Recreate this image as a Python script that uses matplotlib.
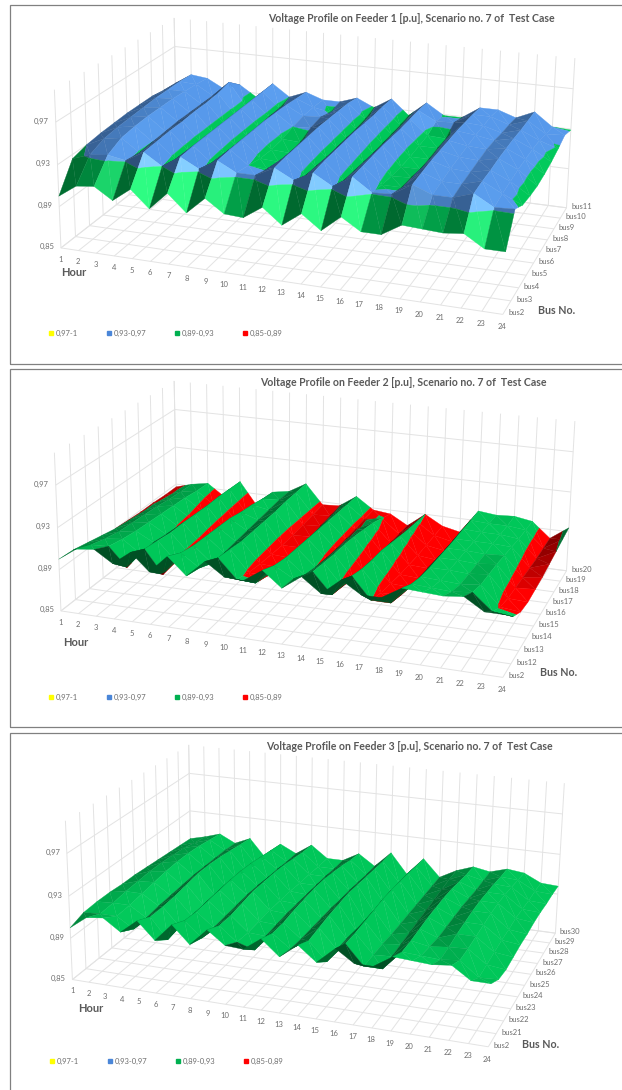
import numpy as np
import matplotlib
matplotlib.use("Agg")
import matplotlib.pyplot as plt
from matplotlib.lines import Line2D
from matplotlib.patches import Rectangle
from mpl_toolkits.mplot3d import proj3d
from mpl_toolkits.mplot3d.art3d import Poly3DCollection

plt.rcParams['font.family'] = ['Lato', 'DejaVu Sans']

W, H = 622, 1090

hours = list(range(1, 25))
hour_labels = [str(h) for h in hours]
z_ticks = [0.85, 0.89, 0.93, 0.97]
z_labels = ['0,85', '0,89', '0,93', '0,97']

buses1 = ['bus2', 'bus3', 'bus4', 'bus5', 'bus6', 'bus7', 'bus8', 'bus9', 'bus10', 'bus11']
buses2 = ['bus2', 'bus12', 'bus13', 'bus14', 'bus15', 'bus16', 'bus17', 'bus18', 'bus19', 'bus20']
buses3 = ['bus2', 'bus21', 'bus22', 'bus23', 'bus24', 'bus25', 'bus26', 'bus27', 'bus28', 'bus29', 'bus30']

# la barra 2 es comun a los tres alimentadores
bus2_v = [.900, .912, .914, .903, .916, .900, .917, .901, .917, .905, .904, .916, .902, .915, .902, .917, .906, .906, .917, .916, .915, .917, .906, .906]

# Feeder 1, una fila por barra, una columna por hora
feeder1_v = [
    bus2_v,
    [.926, .932, .934, .931, .941, .930, .941, .932, .942, .933, .933, .942, .933, .942, .932, .943, .931, .932, .943, .936, .936, .942, .932, .933],
    [.930, .938, .941, .929, .942, .927, .942, .928, .943, .930, .929, .943, .927, .943, .927, .943, .928, .928, .944, .938, .938, .943, .934, .926],
    [.932, .940, .943, .930, .943, .926, .942, .927, .943, .927, .926, .943, .926, .943, .926, .943, .926, .927, .945, .940, .939, .943, .935, .924],
    [.933, .941, .944, .931, .943, .925, .942, .926, .943, .926, .925, .943, .925, .943, .925, .943, .925, .925, .945, .941, .940, .944, .936, .923],
    [.934, .942, .944, .932, .944, .925, .942, .926, .943, .927, .926, .943, .925, .943, .924, .942, .925, .925, .945, .942, .941, .944, .936, .924],
    [.934, .943, .944, .932, .944, .925, .942, .926, .942, .930, .931, .942, .925, .942, .924, .941, .926, .926, .945, .943, .940, .944, .936, .926],
    [.934, .943, .943, .932, .945, .925, .942, .927, .941, .932, .933, .941, .925, .941, .924, .941, .927, .926, .944, .943, .938, .943, .935, .929],
    [.932, .943, .942, .932, .948, .925, .942, .927, .939, .932, .929, .940, .926, .941, .924, .941, .932, .933, .943, .943, .937, .943, .932, .933],
    [.931, .942, .940, .931, .937, .926, .942, .930, .937, .931, .931, .937, .929, .940, .925, .940, .929, .929, .941, .941, .935, .943, .930, .929],
]

# Feeder 2
feeder2_v = [
    bus2_v,
    [.899, .906, .907, .889, .909, .887, .910, .898, .910, .892, .891, .910, .900, .909, .890, .910, .890, .890, .910, .909, .908, .910, .895, .893],
    [.896, .902, .904, .892, .907, .889, .907, .892, .908, .888, .887, .907, .893, .907, .887, .906, .886, .886, .906, .905, .904, .906, .888, .886],
    [.893, .899, .902, .893, .905, .887, .906, .892, .906, .886, .885, .906, .890, .905, .884, .904, .884, .883, .904, .904, .903, .905, .885, .884],
    [.890, .898, .901, .891, .905, .886, .905, .893, .906, .885, .884, .905, .888, .904, .882, .903, .882, .881, .903, .903, .902, .904, .884, .885],
    [.889, .897, .900, .889, .904, .884, .904, .894, .906, .884, .884, .904, .887, .902, .880, .900, .881, .880, .902, .902, .901, .902, .883, .886],
    [.888, .896, .899, .888, .903, .882, .901, .895, .906, .884, .885, .903, .887, .899, .879, .897, .880, .878, .901, .901, .901, .900, .882, .888],
    [.888, .894, .898, .886, .903, .880, .899, .896, .907, .885, .886, .902, .887, .896, .878, .894, .880, .877, .901, .900, .900, .898, .881, .890],
    [.887, .893, .896, .884, .902, .879, .896, .897, .907, .886, .887, .901, .888, .891, .877, .892, .880, .876, .900, .899, .899, .897, .881, .892],
    [.887, .892, .895, .883, .901, .878, .894, .897, .907, .887, .888, .900, .888, .886, .876, .890, .880, .876, .900, .898, .899, .896, .881, .894],
]

# Feeder 3
feeder3_v = [
    bus2_v,
    [.905, .906, .906, .896, .910, .8905, .911, .897, .911, .898, .893, .911, .899, .909, .892, .911, .893, .893, .911, .910, .909, .911, .898, .899],
    [.906, .907, .907, .897, .910, .893, .910, .897, .911, .897, .896, .911, .898, .911, .893, .911, .893, .894, .911, .908, .910, .911, .899, .897],
    [.906, .909, .909, .899, .911, .894, .911, .898, .913, .898, .897, .913, .898, .913, .893, .912, .893, .895, .912, .906, .912, .912, .900, .898],
    [.905, .910, .911, .900, .913, .895, .912, .899, .915, .899, .898, .914, .898, .914, .891, .913, .892, .896, .913, .906, .913, .913, .901, .899],
    [.905, .911, .913, .901, .915, .896, .913, .900, .915, .899, .898, .915, .898, .915, .8895, .914, .892, .897, .913, .906, .914, .914, .901, .899],
    [.904, .911, .914, .902, .915, .896, .913, .900, .915, .899, .898, .915, .897, .914, .8895, .914, .892, .898, .913, .906, .914, .914, .902, .900],
    [.903, .910, .914, .902, .914, .895, .912, .899, .914, .898, .898, .913, .897, .913, .891, .913, .892, .899, .912, .905, .913, .913, .901, .900],
    [.902, .909, .913, .902, .912, .893, .910, .899, .912, .898, .898, .911, .896, .912, .891, .912, .892, .900, .910, .904, .912, .911, .900, .899],
    [.901, .906, .911, .902, .910, .891, .908, .898, .910, .897, .897, .908, .895, .911, .891, .910, .892, .901, .908, .904, .910, .909, .900, .899],
    [.900, .904, .909, .901, .908, .8895, .906, .898, .909, .897, .897, .906, .895, .911, .891, .909, .892, .901, .907, .904, .909, .907, .899, .898],
]

# Bandas de la leyenda
band_names = ['0,97-1', '0,93-0,97', '0,89-0,93', '0,85-0,89']
band_lims = [(.97, 1.0), (.93, .97), (.89, .93), (.85, .89)]
band_colors = [(1.0, 1.0, 0.0), (0.34, 0.60, 0.92), (0.0, 0.78, 0.35), (1.0, 0.0, 0.0)]
legend_colors = ['#FFFF00', '#4A86D8', '#00B050', '#FF0000']

# Camara de cada grafico: (hora, fraccion de barra, z, px, py)
cam1 = [(1, 0, .85, 63, 247), (1, 0, .97, 56, 120), (1, 0, 1.0, 53, 89),
        (1, 1, .85, 175, 161), (1, 1, .93, 175, 84), (1, 1, .97, 175, 46), (1, 1, 1.0, 175, 18),
        (24, 1, .85, 567, 204), (24, 1, .89, 569, 166), (24, 1, .93, 571, 128), (24, 1, .97, 573, 90),
        (24, 1, 1.0, 575, 61), (24, 0, .85, 501, 317), (12, 0, .85, 263, 279), (24, .444, .85, 534, 264)]
cam2 = [(a, b, c, d, e + 363) for a, b, c, d, e in cam1]
cam3 = [(1, 0, .85, 73, 978), (1, 0, .97, 67, 852), (1, 0, 1.0, 65, 820),
        (1, 1, .85, 190, 887), (1, 1, .93, 190, 811), (1, 1, .97, 190, 773), (1, 1, 1.0, 188, 745),
        (24, 1, .85, 556, 930), (24, 1, .89, 558, 892), (24, 1, .93, 560, 854), (24, 1, .97, 562, 815),
        (24, 1, 1.0, 565, 785), (24, 0, .85, 486, 1050), (12, 0, .85, 263, 1011), (24, .5, .85, 525, 985)]


def recortar(pts, lo, hi):
    # recorta un poligono a la banda lo <= z <= hi
    for lim, signo in ((lo, 1), (hi, -1)):
        salida = []
        for i in range(len(pts)):
            p, q = pts[i], pts[(i + 1) % len(pts)]
            dp, dq = signo * (p[2] - lim), signo * (q[2] - lim)
            if dp >= 0:
                salida.append(p)
            if dp * dq < 0:
                t = dp / (dp - dq)
                salida.append(tuple(p[k] + t * (q[k] - p[k]) for k in range(3)))
        pts = salida
        if not pts:
            return []
    return pts


def sombra(z00, z10, z11, z01):
    # brillo de la celda segun la pendiente en hora y en barra
    sh = 0.5 * (z10 - z00 + z11 - z01) / 0.012
    sb = 0.5 * (z01 - z00 + z11 - z10) / 0.015
    m = 1 - 0.48 * np.clip(sh, 0, 1) ** 0.7 - 0.22 * np.clip(sb, 0, 1) * (1 - min(abs(sh), 1))
    extra = 0.3 * np.clip(-sh, 0, 1) * np.clip(sb, 0, 1)
    if sb < -0.6:
        m = 0.4
    return m, extra


def ajustar_camara(ax, cam, nbus):
    # Matriz de proyeccion ajustada a los puntos de la camara
    ax.apply_aspect()
    inv = ax.transData.inverted()
    escala = np.diag([1 / 23, 1 / (nbus - 1), 1 / 0.15, 1.0])
    escala[0, 3] = -1 / 23
    escala[2, 3] = -0.85 / 0.15
    filas = []
    for h, f, z, px, py in cam:
        u, v = inv.transform((px, H - py))
        p = escala @ np.array([h, f * (nbus - 1), z, 1.0])
        filas.append(np.r_[p, 0, 0, 0, 0, -u * p])
        filas.append(np.r_[0, 0, 0, 0, p, -v * p])
    _, _, vt = np.linalg.svd(np.array(filas))
    P = vt[-1].reshape(3, 4)
    centro = P[2] @ np.array([.5, .5, .5, 1.0])
    P = P / centro
    # fila de profundidad: atras en barra, izquierda en hora, abajo en z
    prof = np.array([-0.25, 1.0, -0.35, 1.0])
    M = np.vstack([P[0], P[1], prof, P[2]]) @ escala
    ax.get_proj = lambda: M
    return M


def dibujar(z_data, buses, cam, y_top, title, title_x, title_y, hour_xy, bus_xy, leg_x, leg_y):
    nbus = len(buses)
    lado = W / H
    # el eje 3D siempre es cuadrado, lo centramos en el bloque
    ax = fig.add_axes([0, 1 - (y_top + 490) / H, 1, lado], projection='3d')
    ax.patch.set_visible(False)
    ax.set_xlim(1, 24, view_margin=0)
    ax.set_ylim(0, nbus - 1, view_margin=0)
    ax.set_zlim(.85, 1.0, view_margin=0)
    ax.set_xticks(hours)
    ax.set_yticks(range(nbus))
    ax.set_zticks(z_ticks)
    ax.set_xticklabels([])
    ax.set_yticklabels([])
    ax.set_zticklabels([])
    for eje in (ax.xaxis, ax.yaxis, ax.zaxis):
        eje.set_pane_color((1, 1, 1, 1))
        eje.pane.set_edgecolor((1, 1, 1, 0))
        eje.line.set_color((1, 1, 1, 0))
        eje._axinfo['grid'].update(color='#e3e3e3', linewidth=0.7)
        eje._axinfo['tick']['inward_factor'] = 0
        eje._axinfo['tick']['outward_factor'] = 0
    ax.tick_params(color=(1, 1, 1, 0))

    Z = np.array(z_data)
    polys, cols = [], []
    for j in range(nbus - 1):
        for i in range(23):
            a = (hours[i], j, Z[j, i])
            b = (hours[i + 1], j, Z[j, i + 1])
            c = (hours[i + 1], j + 1, Z[j + 1, i + 1])
            d = (hours[i], j + 1, Z[j + 1, i])
            m, extra = sombra(a[2], b[2], c[2], d[2])
            for tri in ((a, b, d), (b, c, d)):
                for (lo, hi), col in zip(band_lims, band_colors):
                    trozo = recortar(list(tri), lo, hi)
                    if len(trozo) >= 3:
                        polys.append(trozo)
                        rgb = np.array(col) * m + extra * np.array([.6, .7, .55])
                        cols.append(tuple(np.clip(rgb, 0, 1)))
    sup = Poly3DCollection(polys, facecolors=cols, edgecolors=cols, linewidths=0.25)
    ax.add_collection3d(sup)

    M = ajustar_camara(ax, cam, nbus)

    # textos de los ejes, proyectados con la misma camara
    def rotulo(h, b, zv, t, ha):
        u, v, _ = proj3d.proj_transform(h, b, zv, M)
        ax.text2D(u, v, t, transform=ax.transData, fontsize=5.5, color='#6e6e6e', ha=ha, va='center')

    for h, t in zip(hours, hour_labels):
        rotulo(h, -0.05, .85 - .0105, t, 'center')
    for j, t in enumerate(buses):
        rotulo(24.25, j, .85 + .002, t, 'left')
    for zv, t in zip(z_ticks, z_labels):
        rotulo(0.62, 0, zv, t, 'right')

    fig.text(title_x / W, 1 - title_y / H, title, fontsize=7.6, fontweight='bold', color='#595959', ha='left', va='center')
    fig.text(hour_xy[0] / W, 1 - hour_xy[1] / H, 'Hour', fontsize=8, fontweight='bold', color='#595959', ha='left', va='center')
    fig.text(bus_xy[0] / W, 1 - bus_xy[1] / H, 'Bus No.', fontsize=7.7, fontweight='bold', color='#595959', ha='left', va='center')

    marcas = [Line2D([], [], ls='none', marker='s', ms=3, color=c) for c in legend_colors]
    fig.legend(marcas, band_names, ncol=4, frameon=False, fontsize=5.5, labelcolor='#6e6e6e',
               loc='center left', bbox_to_anchor=(leg_x / W, 1 - leg_y / H), borderpad=0, borderaxespad=0,
               handlelength=0.6, handletextpad=0.25, columnspacing=3.8)


fig = plt.figure(figsize=(W / 100, H / 100), dpi=100)

dibujar(feeder1_v, buses1, cam1, 0, 'Voltage Profile on Feeder 1 [p.u], Scenario no. 7 of  Test Case', 268, 18,
        (61, 273), (538, 310), 49, 333)
dibujar(feeder2_v, buses2, cam2, 363, 'Voltage Profile on Feeder 2 [p.u], Scenario no. 7 of  Test Case', 260, 383,
        (63, 643), (540, 673), 49, 697)
dibujar(feeder3_v, buses3, cam3, 730, 'Voltage Profile on Feeder 3 [p.u], Scenario no. 7 of  Test Case', 266, 747,
        (78, 1009), (522, 1045), 50, 1061)

# marcos de la captura
for y0, y1 in ((5, 364), (369, 727), (733, 1200)):
    fig.add_artist(Rectangle((9.5 / W, 1 - y1 / H), 1.0, (y1 - y0) / H, transform=fig.transFigure,
                             fill=False, edgecolor='#808080', linewidth=0.9))

fig.savefig('out.png', dpi=100)
